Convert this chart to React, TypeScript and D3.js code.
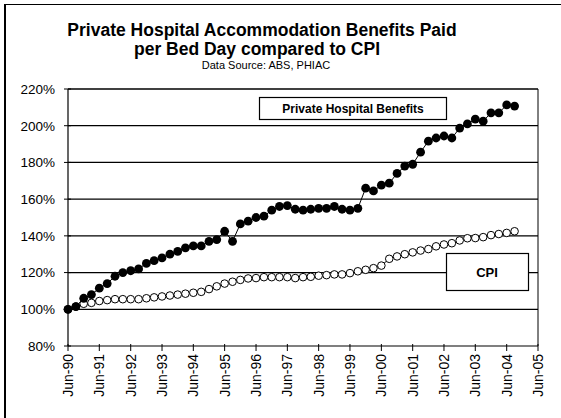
import React, { useEffect, useRef } from 'react';
import * as d3 from 'd3';

// quarterly observations, Jun-90 .. Sep-04
const quarterLabels: string[] = [];
for (let y = 1990; y <= 2004; y++) {
  for (const m of [2, 5, 8, 11]) {
    if (y === 1990 && m < 5) continue;
    if (y === 2004 && m > 8) continue;
    quarterLabels.push(`${y}-${m}`);
  }
}

// % of Jun-90 level
const benefits = [
  100, 101.5, 106,
  108, 111.5, 114, 118,
  120, 121, 122, 125,
  126.5, 128, 130, 131.5,
  133.5, 134.5, 134.5, 137,
  138, 142.5, 137, 146.5,
  148, 150, 150.7, 154,
  156, 156.5, 154.5, 154,
  154.5, 155, 155, 156,
  154.5, 154, 155, 166,
  164.5, 167.6, 168.7, 174,
  178, 179, 185.6, 191.6,
  193.3, 194.4, 193.3, 198.7,
  201, 203.6, 202.5, 207,
  207, 211.3, 210.7,
];

const cpi = [
  100, 101.5, 103,
  103.5, 104.5, 105, 105.5,
  105.5, 105.5, 105.5, 106,
  106.5, 107, 107.5, 108,
  108.5, 109, 109.5, 111,
  112.5, 114, 115, 116,
  116.8, 117, 117.5, 117.5,
  117.5, 117.5, 117, 117.5,
  117.7, 118.3, 118.6, 119,
  119, 119.7, 120.7, 121.5,
  122.4, 123.8, 127.5, 128.8,
  130, 131, 132, 132.8,
  134.3, 135.3, 136, 137.5,
  138.7, 138.8, 139.3, 140.4,
  141, 141.6, 142.5,
];

const yTicks = [80, 100, 120, 140, 160, 180, 200, 220];
const yearTicks = d3.range(1990, 2006);

const FONT = '"Liberation Sans", Arial, sans-serif';

const App = () => {
  const svgRef = useRef<SVGSVGElement>(null);

  useEffect(() => {
    if (!svgRef.current) return;
    const svg = d3.select(svgRef.current);
    svg.selectAll('*').remove();

    const left = 68, right = 538, top = 89, bottom = 346;

    const x = d3.scaleTime()
      .domain([new Date(1990, 5, 1), new Date(2005, 5, 1)])
      .range([left, right]);
    const y = d3.scaleLinear().domain([80, 220]).range([bottom, top]);

    const dates = quarterLabels.map(s => {
      const [yy, mm] = s.split('-').map(Number);
      return new Date(yy, mm, 1);
    });

    // frame
    svg.append('line').attr('x1', 5).attr('x2', 561).attr('y1', 4.5).attr('y2', 4.5)
      .attr('stroke', '#000').attr('stroke-width', 1);
    svg.append('line').attr('x1', 5).attr('x2', 5).attr('y1', 4).attr('y2', 418)
      .attr('stroke', '#000').attr('stroke-width', 2);

    // titles
    svg.append('text').attr('x', 262).attr('y', 36).attr('text-anchor', 'middle')
      .style('font-family', FONT).style('font-weight', 'bold').style('font-size', '17.5px')
      .text('Private Hospital Accommodation Benefits Paid');
    svg.append('text').attr('x', 257).attr('y', 55).attr('text-anchor', 'middle')
      .style('font-family', FONT).style('font-weight', 'bold').style('font-size', '17.5px')
      .text('per Bed Day compared to CPI');
    svg.append('text').attr('x', 266).attr('y', 69).attr('text-anchor', 'middle')
      .style('font-family', FONT).style('font-size', '11px')
      .text('Data Source: ABS, PHIAC');

    // grid
    svg.append('g').selectAll('line').data(yTicks.filter(v => v > 80)).enter().append('line')
      .attr('x1', left).attr('x2', right)
      .attr('y1', d => y(d)).attr('y2', d => y(d))
      .attr('stroke', '#000').attr('stroke-width', 1.3);

    // axes
    svg.append('line').attr('x1', left).attr('x2', left).attr('y1', top).attr('y2', bottom)
      .attr('stroke', '#000').attr('stroke-width', 1.2);
    svg.append('line').attr('x1', right).attr('x2', right).attr('y1', top).attr('y2', bottom)
      .attr('stroke', '#000').attr('stroke-width', 1);
    svg.append('line').attr('x1', left).attr('x2', right).attr('y1', bottom).attr('y2', bottom)
      .attr('stroke', '#000').attr('stroke-width', 1.2);

    const yt = svg.append('g').selectAll('g').data(yTicks).enter().append('g');
    yt.append('line').attr('x1', left - 4).attr('x2', left + 3)
      .attr('y1', d => y(d)).attr('y2', d => y(d)).attr('stroke', '#000');
    yt.append('text').attr('x', 55).attr('y', d => y(d)).attr('dy', '0.36em')
      .attr('text-anchor', 'end')
      .style('font-family', FONT).style('font-size', '13.5px')
      .text(d => `${d}%`);

    const xt = svg.append('g').selectAll('g').data(yearTicks).enter().append('g');
    xt.append('line')
      .attr('x1', d => x(new Date(d, 5, 1))).attr('x2', d => x(new Date(d, 5, 1)))
      .attr('y1', bottom - 2).attr('y2', bottom + 5).attr('stroke', '#000');
    xt.append('text')
      .attr('transform', d => `translate(${x(new Date(d, 5, 1))},${bottom + 8}) rotate(-90)`)
      .attr('dy', '0.36em').attr('text-anchor', 'end')
      .style('font-family', FONT).style('font-size', '14px')
      .text(d => `Jun-${String(d % 100).padStart(2, '0')}`);

    // series
    const line = d3.line<number>().x((_, i) => x(dates[i])).y(d => y(d));
    svg.append('path').datum(cpi).attr('d', line).attr('fill', 'none')
      .attr('stroke', '#000').attr('stroke-width', 1);
    svg.append('path').datum(benefits).attr('d', line).attr('fill', 'none')
      .attr('stroke', '#000').attr('stroke-width', 1);

    svg.append('g').selectAll('circle').data(cpi).enter().append('circle')
      .attr('cx', (_, i) => x(dates[i])).attr('cy', d => y(d)).attr('r', 3.8)
      .attr('fill', '#fff').attr('stroke', '#000').attr('stroke-width', 1);
    svg.append('g').selectAll('circle').data(benefits).enter().append('circle')
      .attr('cx', (_, i) => x(dates[i])).attr('cy', d => y(d)).attr('r', 4.4)
      .attr('fill', '#000');

    // labels
    svg.append('rect').attr('x', 259.5).attr('y', 97.5).attr('width', 187).attr('height', 22)
      .attr('fill', '#fff').attr('stroke', '#000').attr('stroke-width', 1.2);
    svg.append('text').attr('x', 353).attr('y', 108.5).attr('dy', '0.36em').attr('text-anchor', 'middle')
      .style('font-family', FONT).style('font-weight', 'bold').style('font-size', '12px')
      .text('Private Hospital Benefits');

    svg.append('rect').attr('x', 446.5).attr('y', 253.5).attr('width', 82).attr('height', 37)
      .attr('fill', '#fff').attr('stroke', '#000').attr('stroke-width', 1.2);
    svg.append('text').attr('x', 487).attr('y', 272).attr('dy', '0.36em').attr('text-anchor', 'middle')
      .style('font-family', FONT).style('font-weight', 'bold').style('font-size', '13px')
      .text('CPI');
  }, []);

  return (
    <div style={{ position: 'absolute', left: 0, top: 0 }}>
      <svg ref={svgRef} width={561} height={418} style={{ display: 'block', background: '#fff' }} />
    </div>
  );
};

export default App;
